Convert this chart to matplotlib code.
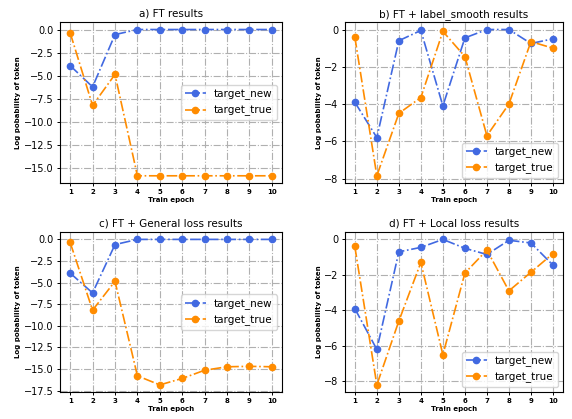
import matplotlib.pyplot as plt

epochs = [1, 2, 3, 4, 5, 6, 7, 8, 9, 10]

# log probability of target tokens per epoch
ft_new = [-3.9, -6.2, -0.55, 0, 0, 0, 0, 0, 0, 0]
ft_true = [-0.35, -8.2, -4.85, -15.8, -15.8, -15.8, -15.8, -15.8, -15.8, -15.8]

ls_new = [-3.9, -5.8, -0.6, -0.05, -4.1, -0.45, 0, 0, -0.75, -0.5]
ls_true = [-0.4, -7.85, -4.5, -3.65, -0.1, -1.45, -5.7, -4.0, -0.65, -1.0]

gen_new = [-3.9, -6.2, -0.6, 0, 0, 0, 0, 0, 0, 0]
gen_true = [-0.35, -8.2, -4.85, -15.8, -16.85, -16.1, -15.15, -14.75, -14.7, -14.75]

loc_new = [-3.9, -6.2, -0.7, -0.45, 0, -0.5, -0.85, -0.05, -0.2, -1.45]
loc_true = [-0.4, -8.2, -4.6, -1.3, -6.5, -1.9, -0.6, -2.9, -1.85, -0.8]

panels = [
    ("a) FT results", ft_new, ft_true, "center right", [0.105, 0.563, 0.388, 0.384]),
    ("b) FT + label_smooth results", ls_new, ls_true, "lower right", [0.603, 0.563, 0.381, 0.384]),
    ("c) FT + General loss results", gen_new, gen_true, "center right", [0.105, 0.064, 0.388, 0.382]),
    ("d) FT + Local loss results", loc_new, loc_true, "lower right", [0.603, 0.064, 0.381, 0.382]),
]

fig = plt.figure(figsize=(5.72, 4.19), dpi=100)

for title, new, true, loc, rect in panels:
    ax = fig.add_axes(rect)
    ax.plot(epochs, new, '-.', marker='o', color='royalblue', linewidth=1.2, markersize=4.5, label='target_new')
    ax.plot(epochs, true, '-.', marker='o', color='darkorange', linewidth=1.2, markersize=4.5, label='target_true')
    ax.set_title(title, fontsize=7.5, pad=4)
    ax.set_xlabel('Train epoch', fontsize=5, fontweight='bold', labelpad=1)
    ax.set_ylabel('Log pobability of token', fontsize=5, fontweight='bold', labelpad=2)
    ax.set_xticks(epochs)
    ax.tick_params(axis='both', length=2.5, width=0.7, pad=2)
    ax.tick_params(axis='x', labelsize=5)
    for t in ax.get_xticklabels():
        t.set_fontweight('bold')
    ax.tick_params(axis='y', labelsize=7)
    for s in ax.spines.values():
        s.set_linewidth(0.8)
    ax.grid(True, linestyle='-.', color='#b0b0b0', linewidth=0.8)
    ax.legend(loc=loc, fontsize=7.5)

plt.savefig('out.png', dpi=100)
